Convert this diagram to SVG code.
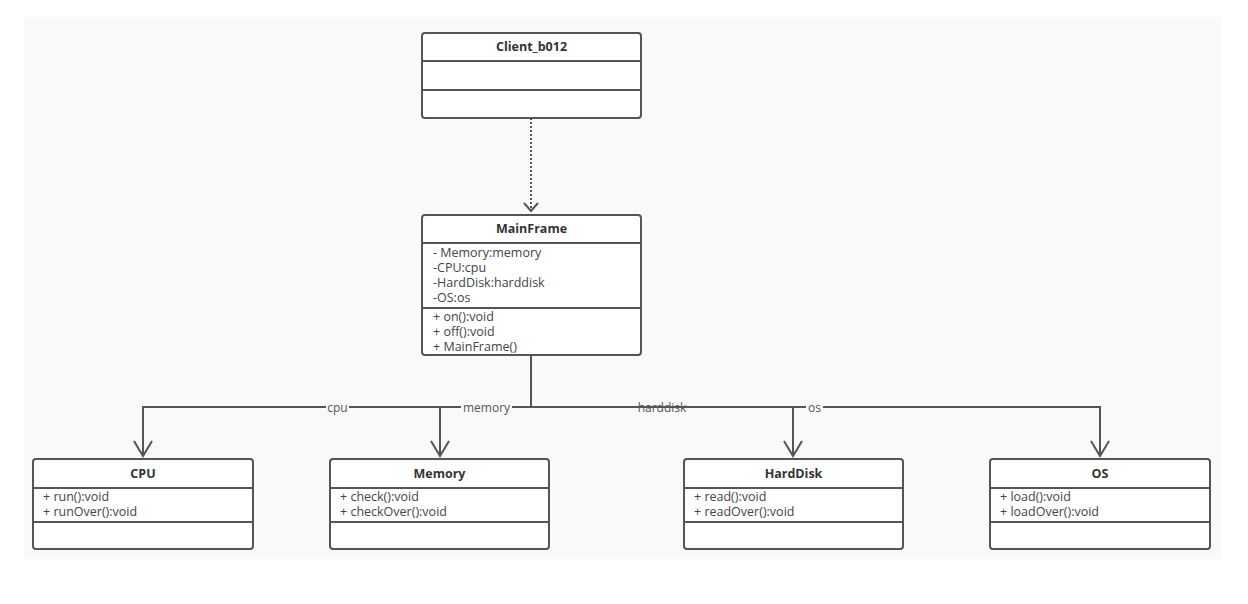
<svg xmlns="http://www.w3.org/2000/svg" width="1248" height="604" viewBox="0 0 1248 604">
<defs>
<style>
.box{fill:#fff;stroke:#555;stroke-width:2}
.div{stroke:#555;stroke-width:2}
.title{font-family:"Open Sans","Liberation Sans",sans-serif;font-size:12.5px;font-weight:bold;fill:#333;text-anchor:middle}
.row{font-family:"Open Sans","Liberation Sans",sans-serif;font-size:12.5px;fill:#444}
.lbl{font-family:"Open Sans","Liberation Sans",sans-serif;font-size:12px;fill:#555;text-anchor:middle}
.conn{fill:none;stroke:#555;stroke-width:2}
.lblbg{fill:#f9f9f9}
</style>
</defs>
<rect x="0" y="0" width="1248" height="604" fill="#fff"/>
<rect x="24" y="17" width="1197" height="542" fill="#f9f9f9"/>

<g id="connectors">
  <path class="conn" d="M531,118 V211" stroke-dasharray="2,2"/>
  <path class="conn" d="M524,203 L531,211 L538,203"/>
  <path class="conn" d="M531,355 V407"/>
  <path class="conn" d="M143,456 V407 H1100 V456"/>
  <path class="conn" d="M440,407 V456"/>
  <path class="conn" d="M793,407 V456"/>
  <path class="conn" d="M134,441 L143,456 L152,441"/>
  <path class="conn" d="M431,441 L440,456 L449,441"/>
  <path class="conn" d="M784,441 L793,456 L802,441"/>
  <path class="conn" d="M1091,441 L1100,456 L1109,441"/>
  <rect class="lblbg" x="326" y="400" width="23" height="14"/>
  <text class="lbl" x="337.5" y="412">cpu</text>
  <rect class="lblbg" x="461" y="400" width="51" height="14"/>
  <text class="lbl" x="486.5" y="412">memory</text>
  <text class="lbl" x="662" y="412">harddisk</text>
  <rect class="lblbg" x="806" y="400" width="17" height="14"/>
  <text class="lbl" x="814.5" y="412">os</text>
</g>

<g id="Client_b012">
  <rect class="box" x="422" y="33" width="219" height="85" rx="3"/>
  <line class="div" x1="422" y1="61" x2="641" y2="61"/>
  <line class="div" x1="422" y1="90" x2="641" y2="90"/>
  <text class="title" x="531.5" y="51">Client_b012</text>
</g>

<g id="MainFrame">
  <rect class="box" x="422" y="215" width="219" height="140" rx="3"/>
  <line class="div" x1="422" y1="243" x2="641" y2="243"/>
  <line class="div" x1="422" y1="308" x2="641" y2="308"/>
  <text class="title" x="531.5" y="233">MainFrame</text>
  <text class="row" x="433" y="257">- Memory:memory</text>
  <text class="row" x="433" y="272">-CPU:cpu</text>
  <text class="row" x="433" y="287">-HardDisk:harddisk</text>
  <text class="row" x="433" y="302">-OS:os</text>
  <text class="row" x="433" y="321">+ on():void</text>
  <text class="row" x="433" y="336">+ off():void</text>
  <text class="row" x="433" y="351">+ MainFrame()</text>
</g>

<g id="CPU">
  <rect class="box" x="33" y="459" width="220" height="90" rx="3"/>
  <line class="div" x1="33" y1="488" x2="253" y2="488"/>
  <line class="div" x1="33" y1="522" x2="253" y2="522"/>
  <text class="title" x="143" y="478">CPU</text>
  <text class="row" x="43" y="501">+ run():void</text>
  <text class="row" x="43" y="516">+ runOver():void</text>
</g>

<g id="Memory">
  <rect class="box" x="330" y="459" width="219" height="90" rx="3"/>
  <line class="div" x1="330" y1="488" x2="549" y2="488"/>
  <line class="div" x1="330" y1="522" x2="549" y2="522"/>
  <text class="title" x="439.5" y="478">Memory</text>
  <text class="row" x="340" y="501">+ check():void</text>
  <text class="row" x="340" y="516">+ checkOver():void</text>
</g>

<g id="HardDisk">
  <rect class="box" x="684" y="459" width="219" height="90" rx="3"/>
  <line class="div" x1="684" y1="488" x2="903" y2="488"/>
  <line class="div" x1="684" y1="522" x2="903" y2="522"/>
  <text class="title" x="793.5" y="478">HardDisk</text>
  <text class="row" x="694" y="501">+ read():void</text>
  <text class="row" x="694" y="516">+ readOver():void</text>
</g>

<g id="OS">
  <rect class="box" x="990" y="459" width="220" height="90" rx="3"/>
  <line class="div" x1="990" y1="488" x2="1210" y2="488"/>
  <line class="div" x1="990" y1="522" x2="1210" y2="522"/>
  <text class="title" x="1100" y="478">OS</text>
  <text class="row" x="1000" y="501">+ load():void</text>
  <text class="row" x="1000" y="516">+ loadOver():void</text>
</g>
</svg>
